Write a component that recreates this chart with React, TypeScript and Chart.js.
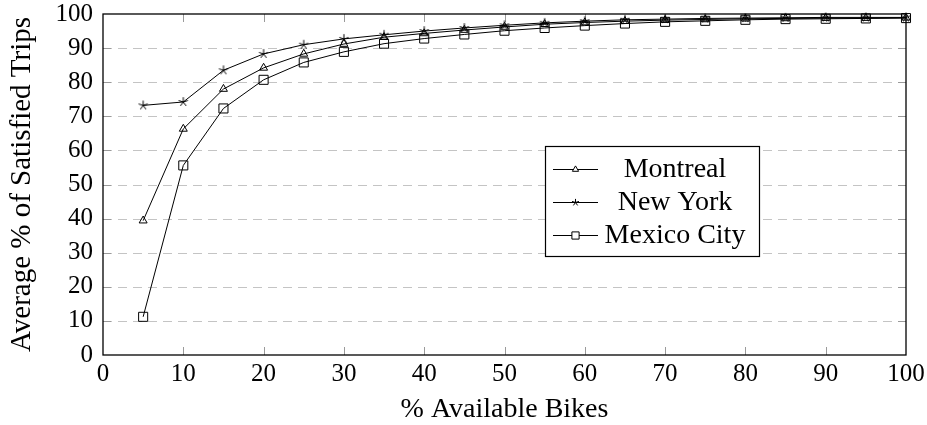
import React, { useEffect, useRef } from 'react';
import { Chart, registerables } from 'chart.js';

Chart.register(...registerables);

const bikesPct = [5, 10, 15, 20, 25, 30, 35, 40, 45, 50, 55, 60, 65, 70, 75, 80, 85, 90, 95, 100];
const montreal = [39.4, 66.3, 78.0, 84.2, 88.3, 91.2, 93.2, 94.3, 95.3, 96.2, 97.0, 97.5, 97.9, 98.2, 98.4, 98.6, 98.7, 98.8, 98.8, 98.9];
const newYork = [73.2, 74.2, 83.5, 88.3, 91.0, 92.7, 93.9, 95.0, 95.9, 96.7, 97.4, 97.9, 98.3, 98.5, 98.7, 98.8, 98.9, 99.0, 99.0, 99.0];
const mexicoCity = [11.2, 55.6, 72.3, 80.7, 85.8, 88.9, 91.3, 92.8, 94.0, 95.1, 95.9, 96.6, 97.2, 97.7, 98.0, 98.3, 98.5, 98.6, 98.7, 98.8];
const seriesNames = ['Montreal', 'New York', 'Mexico City'];
const xTitle = '% Available Bikes';
const yTitle = 'Average % of Satisfied Trips';

const FONT = "'Liberation Serif', 'DejaVu Serif', serif";

function makeStar(r: number): HTMLCanvasElement {
  const c = document.createElement('canvas');
  const s = Math.ceil(r * 2 + 4);
  c.width = s;
  c.height = s;
  const g = c.getContext('2d')!;
  g.strokeStyle = '#000';
  g.lineWidth = 1;
  g.beginPath();
  for (let i = 0; i < 5; i++) {
    const ang = -Math.PI / 2 + (i * 2 * Math.PI) / 5;
    g.moveTo(s / 2, s / 2);
    g.lineTo(s / 2 + r * Math.cos(ang), s / 2 + r * Math.sin(ang));
  }
  g.stroke();
  return c;
}

function drawMarker(ctx: CanvasRenderingContext2D, kind: number, x: number, y: number) {
  ctx.beginPath();
  if (kind === 0) {
    const r = 3.6;
    ctx.moveTo(x, y - r);
    ctx.lineTo(x + r * 0.866, y + r * 0.5);
    ctx.lineTo(x - r * 0.866, y + r * 0.5);
    ctx.closePath();
  } else if (kind === 1) {
    const r = 3.6;
    for (let i = 0; i < 5; i++) {
      const ang = -Math.PI / 2 + (i * 2 * Math.PI) / 5;
      ctx.moveTo(x, y);
      ctx.lineTo(x + r * Math.cos(ang), y + r * Math.sin(ang));
    }
  } else {
    const h = 3.6;
    ctx.rect(x - h, y - h, 2 * h, 2 * h);
  }
  ctx.fillStyle = '#fff';
  if (kind !== 1) ctx.fill();
  ctx.stroke();
}

const framePlugin = {
  id: 'frame',
  beforeDatasetsDraw(chart: any) {
    const { ctx, chartArea: a, scales } = chart;
    const x = scales.x;
    const y = scales.y;
    ctx.save();
    ctx.lineWidth = 1;
    ctx.strokeStyle = '#c4c4c4';
    ctx.setLineDash([9, 6]);
    for (const t of y.ticks) {
      if (t.value <= 0 || t.value >= 100) continue;
      const py = Math.round(y.getPixelForValue(t.value)) + 0.5;
      ctx.beginPath();
      ctx.moveTo(a.left, py);
      ctx.lineTo(a.right, py);
      ctx.stroke();
    }
    ctx.setLineDash([]);
    ctx.strokeStyle = '#9a9a9a';
    const tl = 8;
    for (const t of x.ticks) {
      if (t.value <= 0 || t.value >= 100) continue;
      const px = Math.round(x.getPixelForValue(t.value)) + 0.5;
      ctx.beginPath();
      ctx.moveTo(px, a.bottom);
      ctx.lineTo(px, a.bottom - tl);
      ctx.moveTo(px, a.top);
      ctx.lineTo(px, a.top + tl);
      ctx.stroke();
    }
    for (const t of y.ticks) {
      if (t.value <= 0 || t.value >= 100) continue;
      const py = Math.round(y.getPixelForValue(t.value)) + 0.5;
      ctx.beginPath();
      ctx.moveTo(a.left, py);
      ctx.lineTo(a.left + tl, py);
      ctx.moveTo(a.right, py);
      ctx.lineTo(a.right - tl, py);
      ctx.stroke();
    }
    ctx.strokeStyle = '#000';
    ctx.lineWidth = 1.3;
    ctx.strokeRect(a.left, a.top, a.right - a.left, a.bottom - a.top);
    ctx.restore();
  },
  afterDraw(chart: any) {
    const { ctx } = chart;
    const bx = 545, by = 146, bw = 214, bh = 110;
    ctx.save();
    ctx.fillStyle = '#fff';
    ctx.fillRect(bx, by, bw, bh);
    ctx.strokeStyle = '#000';
    ctx.lineWidth = 1.2;
    ctx.strokeRect(bx + 0.5, by + 0.5, bw, bh);
    const rows = [169, 202, 235];
    ctx.lineWidth = 1;
    ctx.font = `28px ${FONT}`;
    ctx.textBaseline = 'middle';
    ctx.textAlign = 'center';
    chart.data.datasets.forEach((ds: any, i: number) => {
      const yy = rows[i] + 0.5;
      ctx.strokeStyle = '#000';
      ctx.beginPath();
      ctx.moveTo(553, yy);
      ctx.lineTo(598, yy);
      ctx.stroke();
      drawMarker(ctx, i, 575.5, yy);
      ctx.fillStyle = '#000';
      ctx.fillText(ds.label, 675, rows[i] + 1);
    });
    ctx.restore();
  },
};

export default function App() {
  const ref = useRef<HTMLCanvasElement | null>(null);
  useEffect(() => {
    document.body.style.margin = '0';
    const star = makeStar(4.8);
    const common = {
      borderColor: '#000',
      borderWidth: 1,
      pointBorderColor: '#000',
      pointBackgroundColor: 'rgba(0,0,0,0)',
      pointBorderWidth: 1,
      tension: 0,
      fill: false,
      clip: false as any,
    };
    const chart = new Chart(ref.current!, {
      type: 'line',
      data: {
        datasets: [
          { ...common, label: seriesNames[0], data: bikesPct.map((v, i) => ({ x: v, y: montreal[i] })), pointStyle: 'triangle', pointRadius: 4.6 },
          { ...common, label: seriesNames[1], data: bikesPct.map((v, i) => ({ x: v, y: newYork[i] })), pointStyle: star as any, pointRadius: 5 },
          { ...common, label: seriesNames[2], data: bikesPct.map((v, i) => ({ x: v, y: mexicoCity[i] })), pointStyle: 'rect', pointRadius: 6.4 },
        ],
      },
      options: {
        responsive: false,
        animation: false,
        events: [],
        layout: { padding: { left: 0, right: 21, top: 0, bottom: 0 } },
        plugins: { legend: { display: false }, tooltip: { enabled: false } },
        scales: {
          x: {
            type: 'linear',
            min: 0,
            max: 100,
            grid: { display: false, drawTicks: false },
            border: { display: false },
            ticks: { stepSize: 10, color: '#000', padding: 4, font: { family: FONT, size: 25 }, maxRotation: 0 },
            title: { display: true, text: xTitle, color: '#000', font: { family: FONT, size: 28, lineHeight: 1.1 }, padding: { top: 0, bottom: 0 } },
            afterFit: (s: any) => { s.height = 70; s.paddingLeft = 0; s.paddingRight = 0; },
          },
          y: {
            min: 0,
            max: 100,
            grid: { display: false, drawTicks: false },
            border: { display: false },
            ticks: { stepSize: 10, color: '#000', padding: 10, font: { family: FONT, size: 25 } },
            title: { display: true, text: yTitle, color: '#000', font: { family: FONT, size: 29, lineHeight: 1.1 }, padding: { top: 6, bottom: 0 } },
            afterFit: (s: any) => { s.width = 103; s.paddingTop = 14; s.paddingBottom = 0; },
          },
        },
      },
      plugins: [framePlugin],
    });
    return () => chart.destroy();
  }, []);
  return (
    <div style={{ width: 927, height: 425, background: '#fff' }}>
      <canvas ref={ref} width={927} height={425} />
    </div>
  );
}
